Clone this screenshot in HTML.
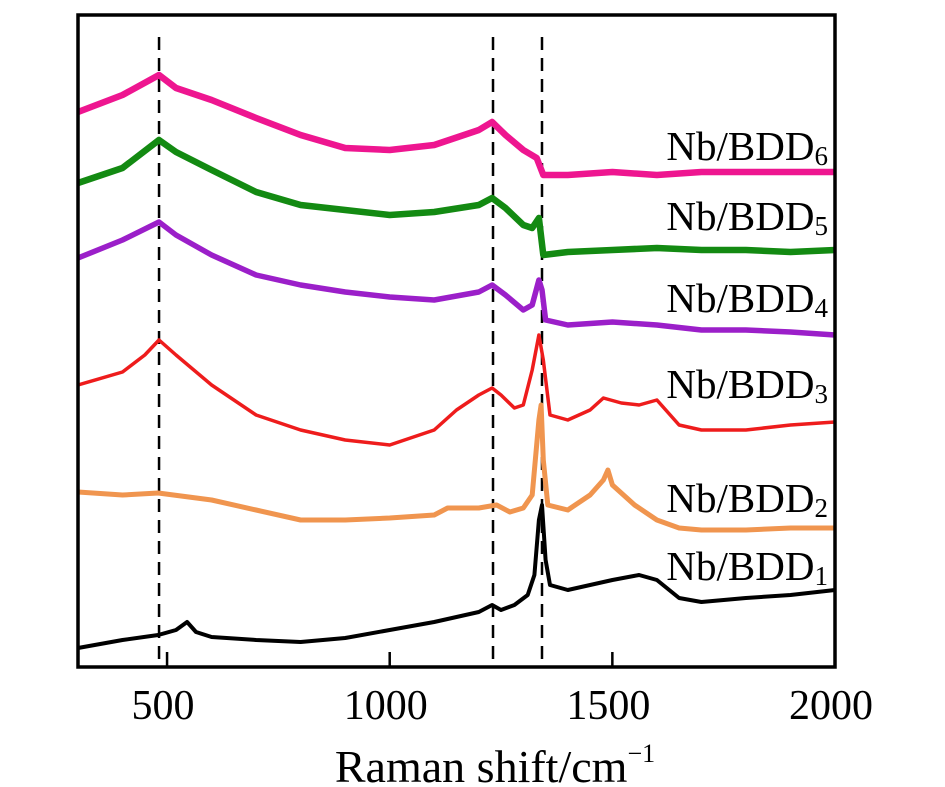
<!DOCTYPE html>
<html><head><meta charset="utf-8"><style>
html,body{margin:0;padding:0;background:#fff;}
svg{display:block;font-family:"Liberation Serif",serif;}
</style></head><body>
<svg id="chart" width="945" height="787" viewBox="0 0 945 787" xmlns="http://www.w3.org/2000/svg">
<g id="plot"></g>
</svg>
<script>
const xTicks=[500,1000,1500,2000];
const dashedPositions=[482,1232,1342];
const wnBlack=[300,400,480,520,545,565,600,700,800,900,1000,1100,1200,1230,1250,1280,1310,1325,1335,1342,1350,1360,1400,1450,1500,1560,1600,1650,1700,1800,1900,2000];
const intBlack=[19,27,32,37,45,35,30,27,25,29,37,45,55,62,57,62,72,92,147,162,107,82,77,82,87,92,87,69,65,69,72,77];
const wnOrange=[300,400,480,600,700,800,900,1000,1100,1130,1200,1240,1270,1300,1320,1335,1340,1345,1355,1400,1450,1480,1490,1500,1550,1600,1650,1700,1800,1900,2000];
const intOrange=[175,172,174,167,157,147,147,149,152,159,159,162,155,159,172,247,262,207,162,157,172,187,197,182,162,147,139,137,137,139,139];
const wnRed=[300,400,450,482,520,600,700,800,900,1000,1100,1150,1200,1230,1250,1280,1300,1320,1335,1345,1360,1400,1450,1480,1520,1560,1600,1650,1700,1800,1900,2000];
const intRed=[282,295,312,327,312,282,252,237,227,222,237,257,272,279,272,259,262,297,332,307,252,247,257,269,264,262,267,242,237,237,242,245];
const wnPurple=[300,400,482,520,600,700,800,900,1000,1100,1200,1230,1260,1300,1320,1335,1342,1350,1400,1500,1600,1700,1800,1900,2000];
const intPurple=[409,427,445,432,412,392,382,375,370,367,375,382,372,357,362,387,377,347,342,345,342,337,337,335,332];
const wnGreen=[300,400,482,520,600,700,800,900,1000,1100,1200,1230,1260,1300,1320,1335,1345,1400,1500,1600,1700,1800,1900,2000];
const intGreen=[484,499,527,515,497,475,462,457,452,455,462,469,459,442,439,449,412,415,417,419,417,417,415,417];
const wnPink=[300,400,482,520,600,700,800,900,1000,1100,1200,1230,1260,1300,1330,1345,1400,1500,1600,1700,1800,1900,2000];
const intPink=[555,572,592,579,567,549,532,519,517,522,537,545,532,517,509,492,492,495,492,495,495,495,495];
const labelNames=["Nb/BDD","Nb/BDD","Nb/BDD","Nb/BDD","Nb/BDD","Nb/BDD"];
const labelSubs=["1","2","3","4","5","6"];

const L=78,R=835,T=15,B=667,XMIN=300,XMAX=2000;
function xs(v){return L+(v-XMIN)/(XMAX-XMIN)*(R-L);}
function ys(v){return B-v;}
const NS="http://www.w3.org/2000/svg";
const g=document.getElementById('plot');
function mk(t,a){const e=document.createElementNS(NS,t);for(const k in a)e.setAttribute(k,a[k]);g.appendChild(e);return e;}

dashedPositions.forEach((d,i)=>{
 const e=mk('line',{x1:xs(d),x2:xs(d),y1:T+22,y2:B,stroke:'#000','stroke-width':2.5,'stroke-dasharray':'13,8'});
 
 
});
const series=[
 [wnBlack,intBlack,'#000000',4,'series-nb-bdd1'],
 [wnOrange,intOrange,'#f0954f',5,'series-nb-bdd2'],
 [wnRed,intRed,'#ee1c1c',3.5,'series-nb-bdd3'],
 [wnPurple,intPurple,'#9b1fc9',5.5,'series-nb-bdd4'],
 [wnGreen,intGreen,'#138a12',6.5,'series-nb-bdd5'],
 [wnPink,intPink,'#ee1690',6.5,'series-nb-bdd6']
];
series.forEach(s=>{
 const p=s[0].map((w,i)=>(i?'L':'M')+xs(w).toFixed(1)+','+ys(s[1][i]).toFixed(1)).join(' ');
 const e=mk('path',{d:p,fill:'none',stroke:s[2],'stroke-width':s[3],'stroke-linejoin':'round'});
 
 
});
const fr=mk('rect',{x:L,y:T,width:R-L,height:B-T,fill:'none',stroke:'#000','stroke-width':3.5});


xTicks.forEach(t=>{
 const tk=mk('line',{x1:xs(t),x2:xs(t),y1:B,y2:B-15,stroke:'#000','stroke-width':2.5});
 
 
 const tl=mk('text',{x:xs(t)-4,y:719,'text-anchor':'middle','font-size':42,fill:'#000',transform:'',textLength:''});
 tl.removeAttribute('transform');tl.removeAttribute('textLength');
 tl.textContent=t;
 
 
});
const labelY=[580,512,398,312,230,160];
labelNames.forEach((n,i)=>{
 const t=mk('text',{x:828,y:labelY[i],'text-anchor':'end','font-size':41,fill:'#000'});
 t.innerHTML=n+'<tspan font-size="27" dy="5">'+labelSubs[i]+'</tspan>';
 
 
});
const xt=mk('text',{x:495,y:782,'text-anchor':'middle','font-size':46,fill:'#000'});
xt.innerHTML='Raman shift/cm<tspan font-size="26" dy="-20">−1</tspan>';


</script>
</body></html>
